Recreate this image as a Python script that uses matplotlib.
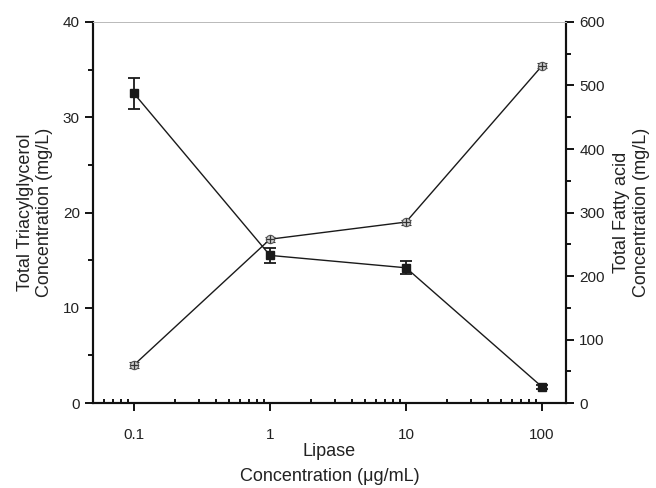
import matplotlib
matplotlib.use("Agg")
import matplotlib.pyplot as plt
from matplotlib.ticker import MultipleLocator, FixedLocator, NullFormatter

plt.rcParams['font.family'] = ['Liberation Sans', 'DejaVu Sans']

lipase = [0.1, 1, 10, 100]
tag = [32.5, 15.5, 14.2, 1.7]
tag_err = [1.6, 0.8, 0.7, 0.2]
fa = [60, 258, 285, 531]
fa_err = [4, 4, 4, 4]

fig = plt.figure(figsize=(6.56, 4.88), dpi=100)
ax = fig.add_axes([0.1418, 0.174, 0.721, 0.781])
ax2 = ax.twinx()

ax.errorbar(lipase, tag, yerr=tag_err, color='#1a1a1a', lw=1, marker='s', ms=6,
            mfc='#1a1a1a', mec='#1a1a1a', capsize=4, capthick=1.3, elinewidth=1.3, zorder=3)

ax2.errorbar(lipase, fa, yerr=fa_err, color='#1a1a1a', lw=1, marker='o', ms=6,
             mfc='#d0d0d0', mec='#555555', mew=0.8, capsize=3.5, capthick=1.3,
             elinewidth=1, ecolor='#333333', zorder=3)
ax2.plot(lipase, fa, ls='none', marker='+', ms=6, mew=0.9, color='#333333', zorder=4)

ax.set_xscale('log')
ax.set_xlim(0.05, 150)
ax.set_ylim(0, 40)
ax2.set_ylim(0, 600)

ax.xaxis.set_major_locator(FixedLocator([0.1, 1, 10, 100]))
ax.set_xticklabels(['0.1', '1', '10', '100'])
ax.xaxis.set_minor_formatter(NullFormatter())
ax.yaxis.set_major_locator(MultipleLocator(10))
ax.yaxis.set_minor_locator(MultipleLocator(5))
ax2.yaxis.set_major_locator(MultipleLocator(100))
ax2.yaxis.set_minor_locator(MultipleLocator(50))

tc = '#222222'
ax.tick_params(axis='x', which='major', direction='out', length=6, width=1.3, labelsize=11, pad=12, labelcolor=tc)
ax.tick_params(axis='x', which='minor', direction='in', length=3, width=1.3)
ax.tick_params(axis='y', which='major', direction='out', length=6, width=1.3, labelsize=11, labelcolor=tc)
ax.tick_params(axis='y', which='minor', direction='out', length=3.5, width=1.3)
ax2.tick_params(axis='y', which='major', direction='out', length=6, width=1.3, labelsize=11, labelcolor=tc)
ax2.tick_params(axis='y', which='minor', direction='out', length=3.5, width=1.3)

for a in (ax, ax2):
    for s in ('left', 'right', 'bottom'):
        a.spines[s].set_linewidth(1.5)
        a.spines[s].set_color('#111111')
    a.spines['top'].set_linewidth(0.7)
    a.spines['top'].set_color('#bbbbbb')

ax.set_xlabel('Lipase\nConcentration (μg/mL)', fontsize=13, labelpad=0.5, linespacing=1.65, color=tc)
ax.set_ylabel('Total Triacylglycerol\nConcentration (mg/L)', fontsize=13, labelpad=7, color=tc)
ax2.set_ylabel('Total Fatty acid\nConcentration (mg/L)', fontsize=13, labelpad=6, color=tc)

fig.savefig('out.png', dpi=100)
